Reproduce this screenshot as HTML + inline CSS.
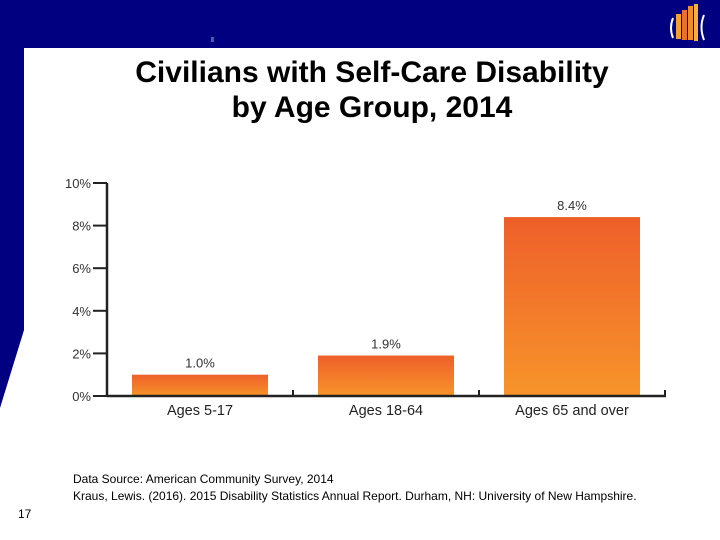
<!DOCTYPE html>
<html><head><meta charset="utf-8"><style>
body{margin:0;width:720px;height:540px;overflow:hidden;background:#fff;font-family:"Liberation Sans",sans-serif;position:relative}
.t{position:absolute;left:0;width:744px;text-align:center;font-size:30px;font-weight:bold;line-height:35px;color:#000}
.src{position:absolute;left:73px;font-size:12px;color:#000}
</style></head><body>
<svg width="720" height="540" style="position:absolute;left:0;top:0">
<polygon points="0,0 720,0 720,48 24,48 24,330 0,408" fill="#000080"/>
<rect x="211" y="37" width="3" height="5" fill="#3a5fb0"/>
<g>
<rect x="676" y="14" width="5" height="25" fill="#f5a030"/>
<rect x="682" y="10" width="5" height="30" fill="#e87030"/>
<rect x="688" y="6" width="5" height="34" fill="#f08c30"/>
<rect x="694" y="4" width="4" height="37" fill="#f7b040"/>
<path d="M673 18 q-4 10 0 20" stroke="#fff" stroke-width="2" fill="none"/>
<path d="M704 15 q-5 12 0 25" stroke="#fff" stroke-width="2" fill="none"/>
</g>
</svg>
<div class="t" style="top:55px">Civilians with Self-Care Disability<br>by Age Group, 2014</div>
<svg id="ch" width="720" height="540" style="position:absolute;left:0;top:0">
<defs><linearGradient id="g" x1="0" y1="0" x2="0" y2="1"><stop offset="0" stop-color="#ee5f2a"/><stop offset="1" stop-color="#f7942a"/></linearGradient></defs>
</svg>
<div class="src" style="top:472px">Data Source: American Community Survey, 2014</div>
<div class="src" style="top:489px">Kraus, Lewis. (2016). 2015 Disability Statistics Annual Report. Durham, NH: University of New Hampshire.</div>
<div style="position:absolute;left:18px;top:507px;font-size:12px">17</div>
<script>
const categories=["Ages 5-17","Ages 18-64","Ages 65 and over"];
const values=[1.0,1.9,8.4];
const valueLabels=["1.0%","1.9%","8.4%"];
const yTicks=[0,2,4,6,8,10];
const svg=document.getElementById('ch');const NS='http://www.w3.org/2000/svg';
const x0=107,x1=665,y0=396,yTop=183;
const y=v=>y0-(y0-yTop)*v/10;
const slot=(x1-x0)/categories.length;
function mk(t,a,txt){const e=document.createElementNS(NS,t);for(const k in a)e.setAttribute(k,a[k]);if(txt!==undefined)e.textContent=txt;svg.appendChild(e);return e;}
const fnt='"Liberation Sans",sans-serif';
yTicks.forEach(v=>{
const l=mk('line',{x1:93,x2:x0,y1:y(v),y2:y(v),stroke:'#222','stroke-width':2});


const t=mk('text',{x:91,y:y(v)+5,'text-anchor':'end','font-size':13,fill:'#333','font-family':fnt},v+'%');


});
categories.forEach((c,i)=>{
const bx=x0+slot*i+25,bw=slot-50;
const r=mk('rect',{x:bx,y:y(values[i]),width:bw,height:y0-y(values[i]),fill:'url(#g)'});


const v=mk('text',{x:bx+bw/2,y:y(values[i])-7,'text-anchor':'middle','font-size':13,fill:'#333','font-family':fnt},valueLabels[i]);


const cl=mk('text',{x:bx+bw/2,y:y0+19,'text-anchor':'middle','font-size':14.5,fill:'#222','font-family':fnt},c);


const tk=mk('line',{x1:x0+slot*(i+1),x2:x0+slot*(i+1),y1:y0-6,y2:y0,stroke:'#222','stroke-width':2});


});
const ya=mk('line',{x1:x0,x2:x0,y1:yTop,y2:y0+1,stroke:'#222','stroke-width':2.5});


const xa=mk('line',{x1:x0,x2:x1+1,y1:y0,y2:y0,stroke:'#222','stroke-width':2.5});


</script>
</body></html>
